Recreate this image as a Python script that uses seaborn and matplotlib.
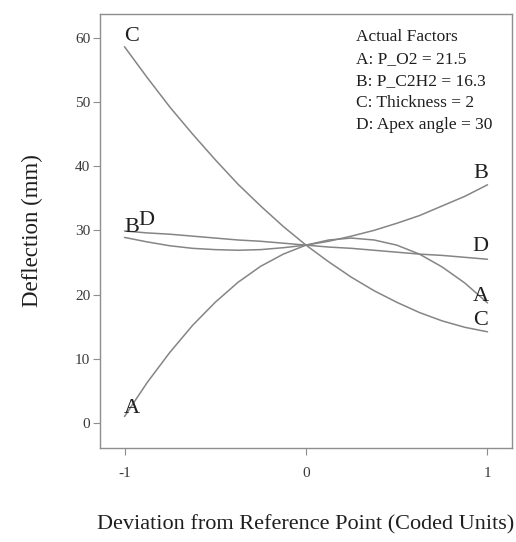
import matplotlib
matplotlib.use("Agg")
import matplotlib.pyplot as plt
import numpy as np
import pandas as pd
import seaborn as sns

# Perturbation plot: deflection response as each factor moves away from the reference point
coded = [-1, -0.875, -0.75, -0.625, -0.5, -0.375, -0.25, -0.125, 0,
         0.125, 0.25, 0.375, 0.5, 0.625, 0.75, 0.875, 1]

defl_A = [1.0, 6.3, 11.0, 15.2, 18.8, 21.9, 24.4, 26.3, 27.7,
          28.5, 28.8, 28.5, 27.7, 26.3, 24.3, 21.8, 18.7]
defl_B = [28.9, 28.2, 27.6, 27.2, 27.0, 26.9, 27.0, 27.3, 27.7,
          28.3, 29.1, 30.0, 31.1, 32.3, 33.8, 35.3, 37.1]
defl_C = [58.6, 53.8, 49.2, 45.0, 41.0, 37.2, 33.8, 30.6, 27.7,
          25.1, 22.7, 20.6, 18.8, 17.2, 15.9, 14.9, 14.2]
defl_D = [29.9, 29.6, 29.4, 29.1, 28.8, 28.5, 28.3, 28.0, 27.7,
          27.4, 27.2, 26.9, 26.6, 26.3, 26.1, 25.8, 25.5]

factor_names = ["A", "B", "C", "D"]
factor_lines = [
    "Actual Factors",
    "A: P_O2 = 21.5",
    "B: P_C2H2 = 16.3",
    "C: Thickness = 2",
    "D: Apex angle = 30",
]
x_ticks = [-1, 0, 1]
y_ticks = [0, 10, 20, 30, 40, 50, 60]

series = {"A": defl_A, "B": defl_B, "C": defl_C, "D": defl_D}
df = pd.concat(
    [pd.DataFrame({"coded": coded, "deflection": vals, "factor": name})
     for name, vals in series.items()],
    ignore_index=True,
)

sns.set_theme(style="ticks")
plt.rcParams["font.family"] = ["Liberation Serif", "DejaVu Serif"]

line_grey = "#858585"
frame_grey = "#8e8e8e"
text_dark = "#1e1e1e"

fig = plt.figure(figsize=(5.16, 5.42), dpi=100)
ax = fig.add_axes([100 / 516, 1 - 448 / 542, 412 / 516, 434 / 542])

sns.lineplot(
    data=df, x="coded", y="deflection", hue="factor",
    palette={f: line_grey for f in factor_names},
    linewidth=1.1, legend=False, ax=ax, sort=False, estimator=None,
)

ax.set_xlim(-1.135, 1.135)
ax.set_ylim(-3.9, 63.7)
ax.set_xticks(x_ticks)
ax.set_xticklabels([str(t) for t in x_ticks])
ax.set_yticks(y_ticks)
ax.set_yticklabels([str(t) for t in y_ticks])

for side in ["top", "right", "left", "bottom"]:
    ax.spines[side].set_visible(True)
    ax.spines[side].set_color(frame_grey)
    ax.spines[side].set_linewidth(1.0)

ax.tick_params(axis="both", which="major", length=5, width=0.8,
               color=frame_grey, labelsize=11, labelcolor="#3a3a3a")
ax.tick_params(axis="x", pad=9)
ax.tick_params(axis="y", pad=2)

ax.set_xlabel("Deviation from Reference Point (Coded Units)",
              fontsize=16, color=text_dark, labelpad=25)
ax.set_ylabel("Deflection (mm)", fontsize=16.5, color=text_dark, labelpad=23)

# Factor letters at both ends of each curve, nudged off the line ends
label_offsets = {
    ("A", 0): (7, 8), ("A", -1): (-7, 6),
    ("B", 0): (7, 10), ("B", -1): (-7, 11),
    ("C", 0): (7, 10), ("C", -1): (-7, 11),
    ("D", 0): (22, 11), ("D", -1): (-7, 13),
}
for name, vals in series.items():
    for idx in (0, -1):
        dx, dy = label_offsets[(name, idx)]
        ax.annotate(name, xy=(coded[idx], vals[idx]), xytext=(dx, dy),
                    textcoords="offset pixels", ha="center", va="center",
                    fontsize=16, color=text_dark)

fig.text(356 / 516, 1 - 29 / 542, "\n".join(factor_lines), ha="left", va="top",
         fontsize=12.5, color=text_dark, linespacing=1.5)

fig.savefig("out.png", dpi=100)
